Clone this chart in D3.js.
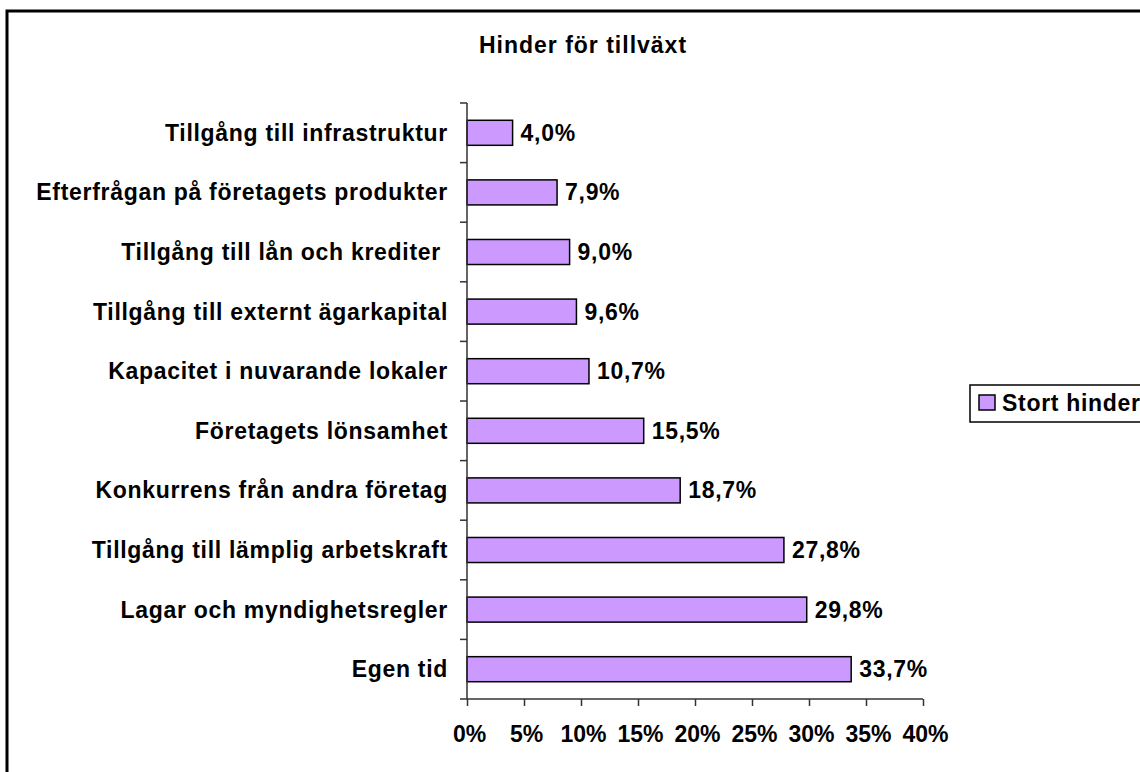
<!DOCTYPE html>
<html><head><meta charset="utf-8">
<script src="https://cdn.jsdelivr.net/npm/d3@7"></script>
<style>
html,body{margin:0;padding:0;background:#fff;}
svg text{font-family:"Liberation Sans",Arial,sans-serif;font-weight:bold;fill:#000;}
</style></head>
<body>
<svg id="chart" width="1140" height="772"></svg>
<script>
const categories = ["Tillgång till infrastruktur","Efterfrågan på företagets produkter","Tillgång till lån och krediter ","Tillgång till externt ägarkapital","Kapacitet i nuvarande lokaler","Företagets lönsamhet","Konkurrens från andra företag","Tillgång till lämplig arbetskraft","Lagar och myndighetsregler","Egen tid"];
const values = [4.0, 7.9, 9.0, 9.6, 10.7, 15.5, 18.7, 27.8, 29.8, 33.7];
const xTicks = [0,5,10,15,20,25,30,35,40];
const seriesName = "Stort hinder";
const title = "Hinder för tillväxt";

(function(){
const svg = d3.select("#chart");
const FS = 23;
const LS = "0.7px";
const pL = 467, pR = 923, pT = 103, pB = 699;

svg.append("rect").attr("x",7).attr("y",11).attr("width",1200).attr("height",800)
  .attr("fill","#fff").attr("stroke","#000").attr("stroke-width",3);

svg.append("text").attr("x",583).attr("y",53).attr("text-anchor","middle")
  .style("font-size",FS+"px").style("letter-spacing","1px").text(title);

const x = d3.scaleLinear().domain([0,40]).range([pL,pR]);
const y = d3.scaleBand().domain(categories).range([pT,pB]).paddingInner(0.58).paddingOuter(0.29);

const g = svg.append("g");
g.selectAll("rect.bar").data(values).join("rect").attr("class","bar")
  .attr("x",x(0)).attr("y",(d,i)=>y(categories[i]))
  .attr("width",d=>x(d)-x(0)).attr("height",y.bandwidth())
  .attr("fill","#CC99FF").attr("stroke","#000").attr("stroke-width",1.5);

g.selectAll("text.val").data(values).join("text").attr("class","val")
  .attr("x",d=>x(d)+8).attr("y",(d,i)=>y(categories[i])+y.bandwidth()/2+8)
  .style("font-size",FS+"px").style("letter-spacing",LS)
  .text(d=>d.toFixed(1).replace(".",",")+"%");

g.selectAll("text.cat").data(categories).join("text").attr("class","cat")
  .attr("x",448).attr("y",d=>y(d)+y.bandwidth()/2+8).attr("text-anchor","end")
  .style("font-size",FS+"px").style("letter-spacing",LS).style("white-space","pre").text(d=>d);

const step = (pB-pT)/categories.length;
const bounds = d3.range(categories.length+1).map(i=>pT+i*step);
g.append("line").attr("x1",pL).attr("x2",pL).attr("y1",pT).attr("y2",pB).attr("stroke","#333").attr("stroke-width",1.5);
g.selectAll("line.yt").data(bounds).join("line").attr("class","yt")
  .attr("x1",pL-7).attr("x2",pL).attr("y1",d=>d).attr("y2",d=>d).attr("stroke","#333").attr("stroke-width",1.5);

const xAxis = d3.axisBottom(x).tickValues(xTicks).tickSize(7).tickPadding(20).tickFormat(d=>d+"%");
const ax = svg.append("g").attr("transform",`translate(0,${pB})`).call(xAxis);
ax.select(".domain").attr("stroke","#333").attr("stroke-width",1.5).attr("d",`M${pL},0H${pR}`);
ax.selectAll(".tick line").attr("stroke","#333").attr("stroke-width",1.5);
ax.selectAll(".tick text").style("font-size",FS+"px").attr("dx",2)
  .style("font-family","'Liberation Sans',Arial,sans-serif").style("font-weight","bold").attr("fill","#000");

const lg = svg.append("g");
lg.append("rect").attr("x",970).attr("y",385).attr("width",200).attr("height",37)
  .attr("fill","#fff").attr("stroke","#000").attr("stroke-width",1.5);
lg.append("rect").attr("x",979).attr("y",395).attr("width",16).attr("height",15)
  .attr("fill","#CC99FF").attr("stroke","#000").attr("stroke-width",1.5);
lg.append("text").attr("x",1002).attr("y",411).style("font-size",FS+"px").style("letter-spacing",LS).text(seriesName);
})();
</script>
</body></html>
